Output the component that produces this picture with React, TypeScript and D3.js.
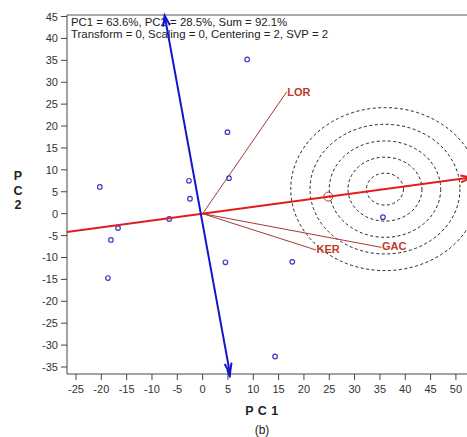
import React from "react";
import * as d3 from "d3";

const W = 467;
const H = 437;

const xTicks = [-25, -20, -15, -10, -5, 0, 5, 10, 15, 20, 25, 30, 35, 40, 45, 50];
const yTicks = [45, 40, 35, 30, 25, 20, 15, 10, 5, 0, -5, -10, -15, -20, -25, -30, -35];

const scoreX = [8.8, 4.9, 5.2, -2.7, -2.5, -20.3, -6.6, -16.7, -18.1, -18.7, 4.5, 17.7, 35.6, 14.3];
const scoreY = [35.2, 18.6, 8.1, 7.5, 3.4, 6.1, -1.2, -3.3, -6.0, -14.7, -11.1, -11.0, -0.8, -32.6];

const loadingNames = ["LOR", "KER", "GAC"];
const loadingX = [16.6, 22.4, 35.3];
const loadingY = [27.8, -8.3, -7.7];

const pc1X = [-26.8, 53.0];
const pc1Y = [-4.2, 8.25];
const pc2X = [5.4, -7.5];
const pc2Y = [-36.5, 45.2];

const circleCX = 36.0;
const circleCY = 5.6;
const circleRadii = [3.65, 7.3, 11.0, 14.8, 18.6];

const markerX = 24.8;
const markerY = 3.9;

const legendLines = [
  "PC1 = 63.6%, PC2 = 28.5%, Sum = 92.1%",
  "Transform = 0, Scaling = 0, Centering = 2, SVP = 2",
];

const FONT = "'Liberation Sans', Arial, Helvetica, sans-serif";

function arrowHead(x1: number, y1: number, x2: number, y2: number, len = 11, ang = 0.32) {
  const a = Math.atan2(y2 - y1, x2 - x1);
  const p1 = [x2 - len * Math.cos(a - ang), y2 - len * Math.sin(a - ang)];
  const p2 = [x2 - len * Math.cos(a + ang), y2 - len * Math.sin(a + ang)];
  return `M${p1[0]},${p1[1]}L${x2},${y2}L${p2[0]},${p2[1]}`;
}

export default function App() {
  const x = d3.scaleLinear().domain([-25, 50]).range([76, 455.9]);
  const y = d3.scaleLinear().domain([45, -35]).range([16.5, 367]);

  const left = 67;
  const top = 15;
  const bottom = 374;
  const right = W;

  const ox = x(0);
  const oy = y(0);

  const p1a = [x(pc1X[0]), y(pc1Y[0])];
  const p1b = [x(pc1X[1]), y(pc1Y[1])];
  const p2a = [x(pc2X[0]), y(pc2Y[0])];
  const p2b = [x(pc2X[1]), y(pc2Y[1])];

  const ccx = x(circleCX);
  const ccy = y(circleCY);

  return (
    <svg
      width={W}
      height={H}
      style={{ position: "absolute", left: 0, top: 0, background: "#fff" }}
      fontFamily={FONT}
    >
      <rect x={0} y={0} width={W} height={H} fill="#fff" />

      {/* frame */}
      <line x1={left} y1={top} x2={right} y2={top} stroke="#555" strokeWidth={1} />
      <line x1={left} y1={top} x2={left} y2={bottom} stroke="#444" strokeWidth={1} />
      <line x1={left} y1={bottom} x2={right} y2={bottom} stroke="#444" strokeWidth={1} />

      {/* y ticks */}
      {yTicks.map((t) => (
        <g key={"yt" + t}>
          <line x1={left - 6} x2={left} y1={y(t)} y2={y(t)} stroke="#444" />
          <text x={58} y={y(t)} fontSize={11} fill="#333" textAnchor="end" dominantBaseline="central">
            {t}
          </text>
        </g>
      ))}
      {/* x ticks */}
      {xTicks.map((t) => (
        <g key={"xt" + t}>
          <line x1={x(t)} x2={x(t)} y1={bottom} y2={bottom + 6} stroke="#444" />
          <text x={x(t)} y={389} fontSize={11} fill="#333" textAnchor="middle" dominantBaseline="central">
            {t}
          </text>
        </g>
      ))}

      {/* axis titles */}
      {["P", "C", "2"].map((c, i) => (
        <text key={c} x={18} y={176 + i * 14.5} fontSize={12.5} fontWeight="bold" fill="#222" textAnchor="middle" dominantBaseline="central">
          {c}
        </text>
      ))}
      <text x={262} y={411} fontSize={12.5} fontWeight="bold" fill="#222" textAnchor="middle" dominantBaseline="central" letterSpacing={0.5}>
        P C 1
      </text>
      <text x={262} y={430} fontSize={12} fill="#222" textAnchor="middle" dominantBaseline="central">
        (b)
      </text>

      {/* legend text */}
      {legendLines.map((l, i) => (
        <text key={i} x={71} y={22 + i * 12} fontSize={11.4} fill="#222" dominantBaseline="central">
          {l}
        </text>
      ))}

      {/* dashed circles */}
      {circleRadii.map((r) => (
        <ellipse
          key={"c" + r}
          cx={ccx}
          cy={ccy}
          rx={x(circleCX + r) - ccx}
          ry={y(circleCY - r) - ccy}
          fill="none"
          stroke="#222"
          strokeWidth={1}
          strokeDasharray="3,2.5"
        />
      ))}

      {/* loading lines */}
      {loadingNames.map((n, i) => (
        <g key={n}>
          <line x1={ox} y1={oy} x2={x(loadingX[i])} y2={y(loadingY[i])} stroke="#a33a3a" strokeWidth={1} />
          <text
            x={x(loadingX[i]) + 0.5}
            y={y(loadingY[i]) - (i === 0 ? 0 : 1.5)}
            fontSize={11}
            fontWeight="bold"
            fill="#c0392b"
            dominantBaseline="central"
          >
            {n}
          </text>
        </g>
      ))}

      {/* score points */}
      {scoreX.map((v, i) => (
        <circle key={"p" + i} cx={x(v)} cy={y(scoreY[i])} r={2.3} fill="none" stroke="#3b3bc4" strokeWidth={1.2} />
      ))}

      {/* PC1 axis (red) */}
      <line x1={p1a[0]} y1={p1a[1]} x2={p1b[0]} y2={p1b[1]} stroke="#e01e1e" strokeWidth={2} />
      <path d={arrowHead(p1a[0], p1a[1], p1b[0], p1b[1])} fill="none" stroke="#e01e1e" strokeWidth={2} />
      <circle cx={x(markerX)} cy={y(markerY)} r={4.5} fill="none" stroke="#d03030" strokeWidth={1} />

      {/* PC2 axis (blue) */}
      <line x1={p2a[0]} y1={p2a[1]} x2={p2b[0]} y2={p2b[1]} stroke="#1414cc" strokeWidth={2} />
      <path d={arrowHead(p2b[0], p2b[1], p2a[0], p2a[1])} fill="none" stroke="#1414cc" strokeWidth={2} />
      <path d={arrowHead(p2b[0], p2b[1], p2a[0], p2a[1] + 4, 8, 0.2)} fill="none" stroke="#1414cc" strokeWidth={1.5} />
      <path d={arrowHead(p2a[0], p2a[1], p2b[0], p2b[1])} fill="none" stroke="#1414cc" strokeWidth={2} />
    </svg>
  );
}
